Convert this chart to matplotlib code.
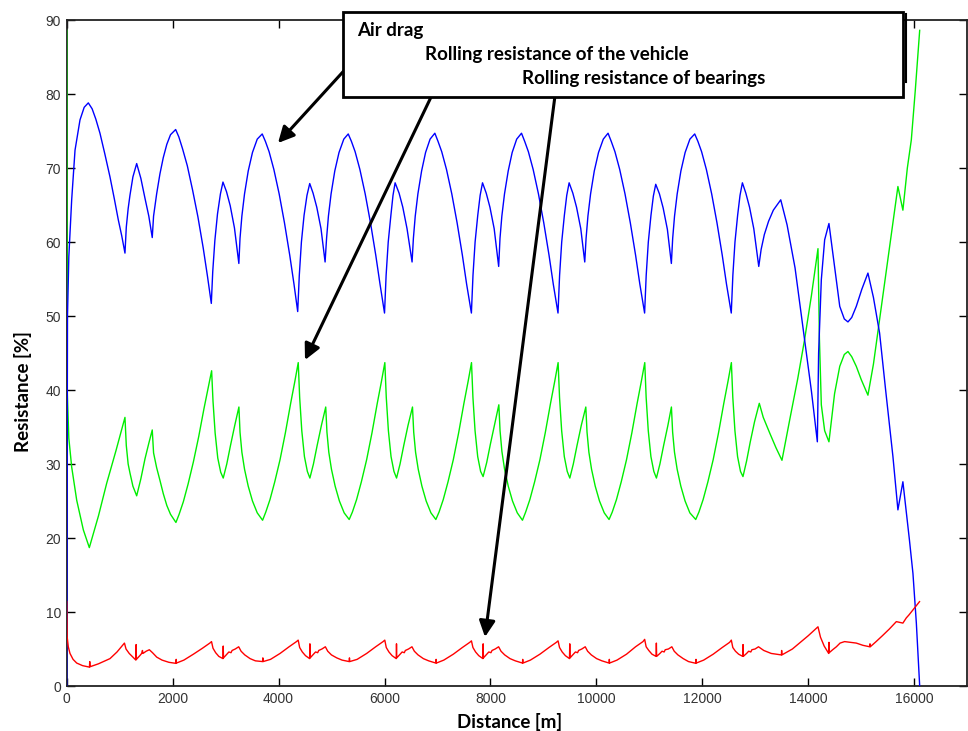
import matplotlib
matplotlib.use('Agg')
import matplotlib.pyplot as plt
from matplotlib.patches import Rectangle
from matplotlib.lines import Line2D

# air drag share [%] vs distance [m] (one line per hump)
blue_d = [0, 15, 40, 94, 157, 251, 330, 408, 480, 550, 628, 720, 817, 900, 974, 1040, 1100,
          1125, 1160, 1194, 1250, 1321, 1400, 1478, 1550, 1615, 1640, 1698, 1760, 1823, 1890, 1960,
          2057, 2117, 2187, 2277, 2377, 2477, 2577, 2657, 2730, 2757, 2797, 2847, 2902, 2950, 3017, 3087, 3167, 3250, 3272, 3307, 3357, 3427, 3507, 3597,
          3691, 3751, 3821, 3911, 4011, 4111, 4211, 4291, 4361, 4391, 4431, 4481, 4536, 4588, 4651, 4721, 4801, 4878, 4906, 4941, 4991, 5061, 5141, 5231,
          5315, 5375, 5445, 5535, 5635, 5735, 5835, 5915, 6000, 6030, 6070, 6120, 6160, 6200, 6275, 6345, 6425, 6520, 6545, 6580, 6630, 6700, 6775, 6860,
          6950, 7010, 7080, 7170, 7270, 7370, 7470, 7550, 7640, 7670, 7710, 7760, 7805, 7850, 7920, 7990, 8070, 8155, 8180, 8215, 8265, 8335, 8410, 8495,
          8586, 8646, 8716, 8806, 8906, 9006, 9106, 9186, 9275, 9305, 9345, 9395, 9440, 9485, 9555, 9625, 9705, 9780, 9805, 9840, 9890, 9960, 10040, 10130,
          10220, 10280, 10350, 10440, 10540, 10640, 10740, 10820, 10910, 10940, 10980, 11030, 11075, 11120, 11190, 11260, 11340, 11415, 11440, 11475, 11525, 11595, 11675, 11765,
          11856, 11916, 11986, 12076, 12176, 12276, 12376, 12456, 12546, 12576, 12616, 12666, 12711, 12756, 12821, 12891, 12971, 13065,
          13110, 13170, 13250, 13340, 13480, 13600, 13750, 13930, 14060, 14171,
          14195, 14246, 14309, 14390, 14496, 14594, 14680, 14749, 14820, 14906, 15010, 15126,
          15230, 15346, 15460, 15598, 15692, 15786, 15850, 15910, 15976, 16040, 16103]
blue_v = [0, 50.0, 58.0, 65.7, 72.4, 76.5, 78.2, 78.8, 78.0, 76.6, 74.7, 71.9, 68.8, 65.8, 63.0, 60.8, 58.5,
          62.0, 64.5, 66.3, 68.8, 70.6, 68.6, 65.9, 63.5, 60.6, 63.5, 66.5, 69.2, 71.4, 73.2, 74.5,
          75.2, 74.2, 72.6, 70.3, 67.0, 63.4, 59.2, 55.4, 51.7, 56.0, 60.2, 63.8, 66.5, 68.1, 66.8, 64.9, 61.9, 57.1, 60.5, 63.5, 66.5, 69.6, 72.1, 73.9,
          74.6, 73.6, 72.2, 69.8, 66.5, 62.6, 58.2, 54.3, 50.6, 55.5, 60.0, 63.6, 66.3, 67.9, 66.6, 64.7, 61.8, 57.3, 60.5, 63.5, 66.5, 69.6, 72.1, 73.9,
          74.6, 73.6, 72.2, 69.8, 66.5, 62.6, 58.2, 54.3, 50.4, 55.5, 60.0, 63.6, 66.3, 68.0, 66.6, 64.7, 61.8, 57.3, 60.5, 63.5, 66.5, 69.6, 72.1, 73.9,
          74.7, 73.6, 72.2, 69.8, 66.5, 62.6, 58.2, 54.3, 50.4, 55.5, 60.0, 63.6, 66.3, 68.0, 66.6, 64.7, 61.8, 56.7, 60.5, 63.5, 66.5, 69.6, 72.1, 73.9,
          74.7, 73.6, 72.2, 69.8, 66.5, 62.6, 58.2, 54.3, 50.4, 55.5, 60.0, 63.6, 66.3, 68.0, 66.6, 64.7, 61.8, 57.3, 60.5, 63.5, 66.5, 69.6, 72.1, 73.9,
          74.7, 73.6, 72.2, 69.8, 66.5, 62.6, 58.2, 54.3, 50.4, 55.5, 60.0, 63.6, 66.2, 67.8, 66.5, 64.6, 61.7, 57.1, 60.5, 63.5, 66.5, 69.6, 72.1, 73.9,
          74.6, 73.6, 72.2, 69.8, 66.5, 62.6, 58.2, 54.3, 50.4, 55.5, 60.0, 63.6, 66.3, 68.0, 66.6, 64.7, 61.8, 56.7,
          59.0, 61.0, 62.8, 64.3, 65.7, 62.3, 56.5, 46.8, 39.8, 33.0,
          45.0, 54.9, 60.3, 62.5, 56.7, 51.3, 49.6, 49.2, 49.8, 51.3, 53.6, 55.8,
          52.5, 47.7, 40.0, 31.0, 23.8, 27.6, 23.5, 19.7, 15.2, 8.5, 0]

# rolling resistance of the vehicle [%]
green_d = [0, 10, 40, 94, 189, 314, 427, 600, 755, 930, 1100,
           1125, 1160, 1194, 1250, 1321, 1400, 1478, 1550, 1615, 1640, 1698, 1760, 1823, 1890, 1960,
           2062, 2122, 2202, 2292, 2392, 2492, 2592, 2672, 2736, 2762, 2802, 2852, 2907, 2955, 3022, 3092, 3172, 3251, 3272, 3307, 3357, 3427, 3507, 3597,
           3698, 3758, 3838, 3928, 4028, 4128, 4228, 4308, 4371, 4398, 4438, 4488, 4543, 4591, 4658, 4728, 4808, 4890, 4913, 4948, 4998, 5068, 5148, 5238,
           5333, 5393, 5473, 5563, 5663, 5763, 5863, 5943, 6006, 6033, 6073, 6123, 6178, 6227, 6293, 6363, 6443, 6528, 6551, 6586, 6636, 6706, 6786, 6876,
           6969, 7029, 7109, 7199, 7299, 7399, 7499, 7579, 7642, 7669, 7709, 7759, 7814, 7861, 7929, 7999, 8079, 8158, 8181, 8216, 8266, 8336, 8416, 8506,
           8604, 8664, 8744, 8834, 8934, 9034, 9134, 9214, 9277, 9304, 9344, 9394, 9449, 9498, 9564, 9634, 9714, 9800, 9823, 9858, 9908, 9978, 10058, 10148,
           10239, 10299, 10379, 10469, 10569, 10669, 10769, 10849, 10913, 10939, 10979, 11029, 11084, 11133, 11199, 11269, 11349, 11416, 11439, 11474, 11524, 11594, 11674, 11764,
           11875, 11935, 12015, 12105, 12205, 12305, 12405, 12485, 12548, 12575, 12615, 12665, 12720, 12767, 12835, 12905, 12985, 13075,
           13150, 13271, 13390, 13503, 13650, 13800, 13930, 14060, 14183,
           14210, 14246, 14309, 14390, 14496, 14594, 14680, 14749, 14820, 14906, 15000, 15126,
           15230, 15346, 15460, 15598, 15692, 15786, 15870, 15945, 16020, 16103]
green_v = [88.6, 40.0, 33.5, 29.6, 25.1, 21.1, 18.7, 23.0, 27.4, 31.8, 36.3,
           32.5, 30.0, 28.8, 27.0, 25.7, 28.0, 30.7, 32.8, 34.6, 31.5, 29.5, 27.8, 26.0, 24.4, 23.2,
           22.1, 23.2, 24.9, 27.3, 30.3, 33.7, 37.5, 40.3, 42.6, 38.5, 34.2, 30.8, 28.9, 28.1, 30.0, 32.5, 35.2, 37.7, 34.3, 31.6, 29.3, 27.0, 25.0, 23.4,
           22.4, 23.5, 25.2, 27.6, 30.6, 34.2, 38.2, 41.2, 43.7, 39.0, 34.5, 31.0, 29.0, 28.1, 30.0, 32.5, 35.2, 37.7, 34.3, 31.6, 29.3, 27.0, 25.0, 23.4,
           22.5, 23.5, 25.2, 27.6, 30.6, 34.2, 38.2, 41.2, 43.7, 39.0, 34.5, 31.0, 29.0, 28.1, 30.0, 32.5, 35.2, 37.7, 34.3, 31.6, 29.3, 27.0, 25.0, 23.4,
           22.5, 23.5, 25.2, 27.6, 30.6, 34.2, 38.2, 41.2, 43.7, 39.0, 34.5, 31.0, 29.0, 28.3, 30.2, 32.7, 35.4, 38.0, 34.5, 31.7, 29.3, 27.0, 25.0, 23.4,
           22.4, 23.5, 25.2, 27.6, 30.6, 34.2, 38.2, 41.2, 43.7, 39.0, 34.5, 31.0, 29.0, 28.1, 30.0, 32.5, 35.2, 37.7, 34.3, 31.6, 29.3, 27.0, 25.0, 23.4,
           22.5, 23.5, 25.2, 27.6, 30.6, 34.2, 38.2, 41.2, 43.7, 39.0, 34.5, 31.0, 29.0, 28.1, 30.0, 32.5, 35.2, 37.7, 34.3, 31.6, 29.3, 27.0, 25.0, 23.4,
           22.5, 23.5, 25.2, 27.6, 30.6, 34.2, 38.2, 41.2, 43.7, 39.0, 34.5, 31.0, 29.0, 28.3, 30.4, 33.0, 35.7, 38.2,
           36.3, 34.2, 32.2, 30.5, 36.0, 41.5, 46.8, 52.8, 59.1,
           47.0, 38.0, 34.5, 33.0, 39.5, 43.2, 44.8, 45.2, 44.5, 43.2, 41.4, 39.3,
           43.5, 49.5, 55.5, 62.5, 67.5, 64.3, 70.0, 73.8, 80.5, 88.6]

# rolling resistance of bearings [%]
red_d = [0, 8, 30, 62, 120, 189, 300, 430, 435, 440, 600, 817, 950, 1090, 1120, 1180, 1250, 1306, 1311, 1316,
         1380, 1415, 1430, 1440, 1500, 1560, 1620, 1700, 1800, 1930,
         2062, 2067, 2072, 2212, 2392, 2562, 2702, 2734, 2762, 2812, 2872, 2950, 2955, 2960, 3022, 3062, 3102, 3122, 3182, 3247, 3292, 3362, 3462, 3562,
         3698, 3703, 3708, 3848, 4028, 4198, 4338, 4370, 4398, 4448, 4508, 4586, 4591, 4596, 4658, 4698, 4738, 4758, 4818, 4883, 4928, 4998, 5098, 5198,
         5333, 5338, 5343, 5483, 5663, 5833, 5973, 6005, 6033, 6083, 6143, 6221, 6226, 6231, 6293, 6333, 6373, 6393, 6453, 6518, 6563, 6633, 6733, 6833,
         6969, 6974, 6979, 7119, 7299, 7469, 7609, 7641, 7669, 7719, 7779, 7857, 7862, 7867, 7929, 7969, 8009, 8029, 8089, 8154, 8199, 8269, 8369, 8469,
         8604, 8609, 8614, 8754, 8934, 9104, 9244, 9276, 9304, 9354, 9414, 9492, 9497, 9502, 9564, 9604, 9644, 9664, 9724, 9789, 9834, 9904, 10004, 10104,
         10239, 10244, 10249, 10389, 10569, 10739, 10879, 10911, 10939, 10989, 11049, 11127, 11132, 11137, 11199, 11239, 11279, 11299, 11359, 11424, 11469, 11539, 11639, 11739,
         11875, 11880, 11885, 12025, 12205, 12375, 12515, 12547, 12575, 12625, 12685, 12763, 12768, 12773, 12835, 12875, 12915, 12935, 12995, 13060,
         13160, 13300, 13492, 13497, 13502, 13700, 13850, 14000, 14183, 14230, 14300, 14385, 14390, 14395,
         14460, 14530, 14600, 14685, 14800, 14906, 15030, 15160, 15165, 15170, 15280, 15400, 15530, 15662, 15786,
         15850, 15900, 16000, 16100]
red_v = [11.4, 6.7, 5.3, 4.4, 3.6, 3.1, 2.75, 2.55, 3.3, 2.6, 3.0, 3.7, 4.6, 5.8, 5.0, 4.4, 3.9, 3.5, 5.6, 3.6,
         4.1, 4.4, 4.8, 4.4, 4.7, 4.9, 4.5, 3.9, 3.5, 3.2,
         3.06, 3.6, 3.1, 3.5, 4.3, 5.1, 5.8, 6.0, 5.1, 4.5, 4.0, 3.7, 5.4, 3.8, 4.3, 4.6, 4.5, 4.8, 5.0, 5.3, 4.7, 4.2, 3.7, 3.4,
         3.3, 3.8, 3.3, 3.6, 4.4, 5.3, 6.0, 6.2, 5.2, 4.6, 4.1, 3.7, 5.7, 3.8, 4.3, 4.6, 4.5, 4.8, 5.0, 5.3, 4.7, 4.2, 3.8, 3.5,
         3.3, 3.8, 3.3, 3.6, 4.4, 5.3, 6.0, 6.2, 5.2, 4.6, 4.1, 3.7, 5.7, 3.8, 4.3, 4.6, 4.5, 4.8, 5.0, 5.3, 4.7, 4.2, 3.7, 3.4,
         3.1, 3.6, 3.1, 3.5, 4.3, 5.2, 5.9, 6.1, 5.2, 4.6, 4.1, 3.7, 5.7, 3.8, 4.3, 4.6, 4.5, 4.8, 5.0, 5.3, 4.7, 4.2, 3.7, 3.4,
         3.1, 3.6, 3.1, 3.5, 4.3, 5.2, 5.9, 6.1, 5.2, 4.6, 4.1, 3.7, 5.7, 3.8, 4.3, 4.6, 4.5, 4.8, 5.0, 5.3, 4.7, 4.2, 3.7, 3.4,
         3.1, 3.6, 3.1, 3.5, 4.3, 5.3, 6.0, 6.3, 5.3, 4.8, 4.3, 4.0, 5.8, 4.0, 4.4, 4.7, 4.6, 4.9, 5.0, 5.3, 4.7, 4.2, 3.7, 3.3,
         3.07, 3.6, 3.1, 3.5, 4.3, 5.2, 5.9, 6.2, 5.2, 4.7, 4.3, 4.0, 5.6, 4.0, 4.4, 4.7, 4.6, 4.9, 5.0, 5.3,
         4.8, 4.4, 4.2, 4.8, 4.2, 5.0, 5.9, 6.8, 8.0, 6.6, 5.4, 4.4, 5.9, 4.5,
         4.9, 5.3, 5.8, 6.0, 5.9, 5.8, 5.5, 5.3, 5.7, 5.3, 6.0, 6.8, 7.7, 8.7, 8.5,
         9.2, 9.6, 10.5, 11.4]

x_ticks = [0, 2000, 4000, 6000, 8000, 10000, 12000, 14000, 16000]
y_ticks = [0, 10, 20, 30, 40, 50, 60, 70, 80, 90]
notes = ['Air drag', 'Rolling resistance of the vehicle', 'Rolling resistance of bearings']

W, H = 968, 731
fig = plt.figure(figsize=(W / 100, H / 100), dpi=100)
ax = fig.add_axes([66.7 / W, 1 - 686 / H, 900.5 / W, 666 / H])

ax.plot(green_d, green_v, color='#00ee00', lw=1.0, zorder=3)
ax.plot(blue_d, blue_v, color='#0000ff', lw=1.0, zorder=3)
ax.plot(red_d, red_v, color='#ff0000', lw=1.0, zorder=3)

ax.set_xlim(0, 17000)
ax.set_ylim(0, 90)
ax.set_xticks(x_ticks)
ax.set_yticks(y_ticks)
ax.tick_params(direction='in', length=6, width=1, top=True, right=True,
               labelsize=10, labelcolor='#333333', pad=4)
for lab in ax.get_xticklabels() + ax.get_yticklabels():
    lab.set_family('Liberation Sans')
for s in ax.spines.values():
    s.set_linewidth(1.3)
    s.set_color('#222222')

bold = dict(family='Lato', fontweight='bold', fontsize=13.5, color='black')
fig.text(510 / W, 3 / H, 'Distance [m]', ha='center', va='baseline', **bold)
fig.text(23 / W, 1 - 392 / H, 'Resistance [%]', rotation=90, ha='center', va='center', **bold)

# annotation box sitting over the top of the axes
fig.add_artist(Rectangle((343 / W, 1 - 97 / H), 560 / W, 85 / H, transform=fig.transFigure,
                         facecolor='white', edgecolor='black', lw=2, zorder=10))
fig.add_artist(Line2D([906 / W, 906 / W], [1 - 14 / H, 1 - 82 / H], transform=fig.transFigure,
                      color='black', lw=1.5, zorder=10))
fig.text(357 / W, 1 - 36 / H, notes[0], ha='left', va='baseline', zorder=11, **bold)
fig.text(425 / W, 1 - 60 / H, notes[1], ha='left', va='baseline', zorder=11, **bold)
fig.text(522 / W, 1 - 84 / H, notes[2], ha='left', va='baseline', zorder=11, **bold)

arrows = [((372, 40), (278, 143)), ((444, 70), (305, 360)), ((556, 88), (485, 637))]
for (x0, y0), (x1, y1) in arrows:
    ann = ax.annotate('', xy=(x1, H - y1), xytext=(x0, H - y0),
                      xycoords='figure pixels', textcoords='figure pixels',
                      arrowprops=dict(arrowstyle='-|>', lw=2.2, color='black',
                                      mutation_scale=24, shrinkA=0, shrinkB=0),
                      annotation_clip=False)
    ann.set_zorder(12)

fig.savefig('out.png', dpi=100)
